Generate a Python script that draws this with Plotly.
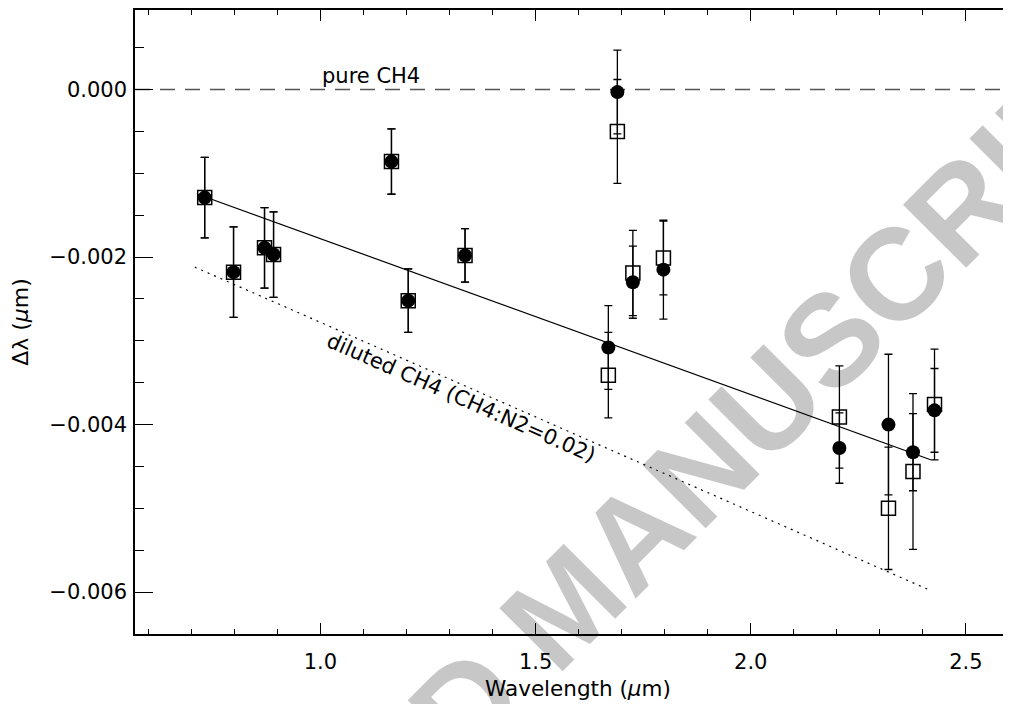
import plotly.graph_objects as go

# wavelengths of the bands (micron)
wl = [0.731, 0.798, 0.870, 0.891, 1.165, 1.204, 1.336, 1.669, 1.690,
      1.726, 1.797, 2.206, 2.320, 2.377, 2.427]

# shifts, filled circles
shift_circ = [-0.00129, -0.00218, -0.00189, -0.00197, -0.00086, -0.00252,
              -0.00198, -0.00308, -0.00003, -0.00230, -0.00215, -0.00428,
              -0.00400, -0.00433, -0.00383]
err_circ = [0.00048, 0.00054, 0.00048, 0.00051, 0.00039, 0.00038, 0.00032,
            0.00050, 0.00050, 0.00043, 0.00059, 0.00042, 0.00084, 0.00046,
            0.00050]

# shifts, open squares
shift_sq = [-0.00129, -0.00218, -0.00189, -0.00197, -0.00086, -0.00252,
            -0.00198, -0.00341, -0.00050, -0.00219, -0.00201, -0.00391,
            -0.00500, -0.00456, -0.00376]
err_sq = [0.00048, 0.00054, 0.00048, 0.00051, 0.00039, 0.00038, 0.00032,
          0.00051, 0.00062, 0.00051, 0.00044, 0.00061, 0.00073, 0.00093,
          0.00066]

# linear fit and diluted CH4 reference line
fit_x = [0.715, 2.418]
fit_y = [-0.00125, -0.00442]
dil_x = [0.708, 2.413]
dil_y = [-0.00212, -0.00597]

# the original figure is cropped on the right, the frame lies just past the edge
xrange = [0.569, 2.628]
yrange = [-0.0065, 0.00095]

font = "DejaVu Sans"

fig = go.Figure()

# pure CH4 level
fig.add_trace(go.Scatter(x=xrange, y=[0, 0], mode="lines",
                         line=dict(color="#555555", width=1.4, dash="15px,10px"),
                         hoverinfo="skip"))
fig.add_trace(go.Scatter(x=dil_x, y=dil_y, mode="lines",
                         line=dict(color="black", width=1.2, dash="2px,5px")))
fig.add_trace(go.Scatter(x=fit_x, y=fit_y, mode="lines",
                         line=dict(color="black", width=1.2)))

fig.add_trace(go.Scatter(
    x=wl, y=shift_sq, mode="markers",
    marker=dict(symbol="square-open", size=14, color="black",
                line=dict(width=1.5, color="black")),
    error_y=dict(type="data", array=err_sq, color="black", thickness=1.3, width=4)))
fig.add_trace(go.Scatter(
    x=wl, y=shift_circ, mode="markers",
    marker=dict(symbol="circle", size=14, color="black"),
    error_y=dict(type="data", array=err_circ, color="black", thickness=1.3, width=4)))

fig.add_annotation(x=1.118, y=0.000163, text="pure CH4", showarrow=False,
                   font=dict(family=font, size=21, color="black"))
fig.add_annotation(x=1.327, y=-0.00368, text="diluted CH4 (CH4:N2=0.02)",
                   showarrow=False, textangle=23.7,
                   font=dict(family=font, size=21, color="black"))

# watermark
fig.add_annotation(xref="paper", yref="paper", x=0.486, y=0.046,
                   xanchor="center", yanchor="middle",
                   text="ACCEPTED MANUSCRIPT", showarrow=False, textangle=-45,
                   font=dict(family="Liberation Sans", size=130, weight="bold",
                             color="rgba(0,0,0,0.22)"))

fig.update_xaxes(range=xrange, dtick=0.5, tick0=0, tickformat=".1f",
                 ticks="inside", ticklen=11, tickwidth=1.3, tickcolor="black",
                 minor=dict(dtick=0.1, ticks="inside", ticklen=5, tickwidth=1.3,
                            tickcolor="black"),
                 showline=True, linecolor="black", linewidth=1.5, mirror="ticks",
                 showgrid=False, zeroline=False, ticklabelstandoff=8,
                 tickfont=dict(family=font, size=21, color="black"),
                 title=dict(text="Wavelength (<i>μ</i>m)",
                            font=dict(family=font, size=21.5, color="black"),
                            standoff=8))
fig.update_yaxes(range=yrange, dtick=0.002, tick0=0, tickformat=".3f",
                 ticks="inside", ticklen=18, tickwidth=1.3, tickcolor="black",
                 minor=dict(dtick=0.0005, ticks="inside", ticklen=9, tickwidth=1.3,
                            tickcolor="black"),
                 showline=True, linecolor="black", linewidth=1.5, mirror="ticks",
                 showgrid=False, zeroline=False, ticklabelstandoff=2,
                 tickfont=dict(family=font, size=21, color="black"),
                 title=dict(text="Δλ (<i>μ</i>m)",
                            font=dict(family=font, size=22, color="black"),
                            standoff=26))

# the page keeps an 8px body margin, so the margins are shifted by it
fig.update_layout(width=1030, height=704, showlegend=False,
                  margin=dict(l=125, r=17, t=0, b=78),
                  plot_bgcolor="white", paper_bgcolor="white")

fig.write_html("out.html")
